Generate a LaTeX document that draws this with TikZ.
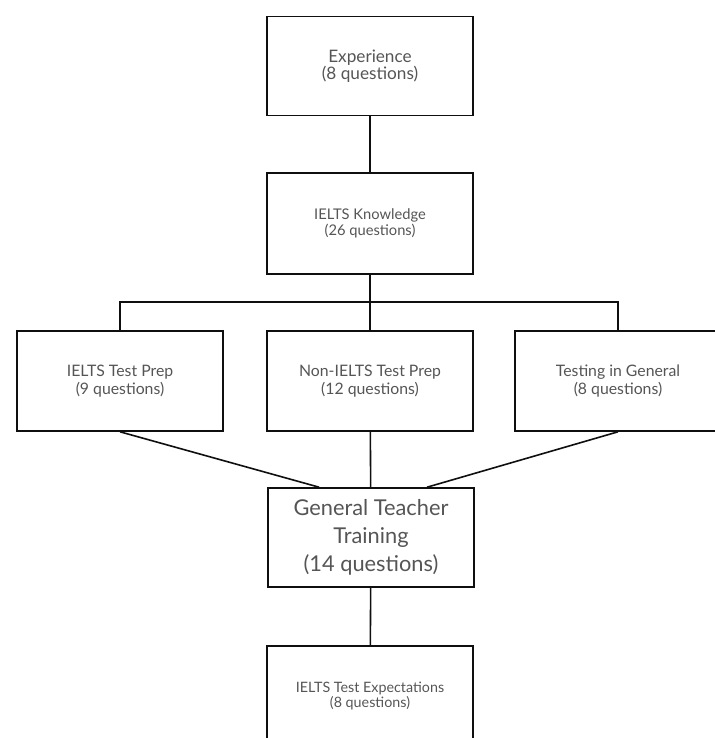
\documentclass[tikz,border=0pt]{standalone}
\usepackage{fontspec}
\setmainfont{Lato}
\usetikzlibrary{calc}
\definecolor{boxline}{RGB}{15,15,15}
\definecolor{labeltext}{RGB}{85,85,85}

\begin{document}
\begin{tikzpicture}[
      box/.style={draw=boxline,line width=1.6pt,minimum width=206pt,
                  minimum height=99pt,align=center,text=labeltext,inner sep=0pt},
      link/.style={draw=boxline,line width=1.6pt},
      x=1pt,y=-1pt]
    \useasboundingbox (0,0) rectangle (714,738);
    \node[box,font=\fontsize{17.2}{16}\selectfont] (exp) at (370,66)
        {Experience\\(8 questions)};
    \node[box,font=\fontsize{14.7}{16}\selectfont,minimum height=101pt] (know) at (370,223.5)
        {IELTS Knowledge\\(26 questions)};
    \node[box,font=\fontsize{15.8}{18}\selectfont,minimum height=100pt] (prep) at (120,381)
        {IELTS Test Prep\\(9 questions)};
    \node[box,font=\fontsize{15.8}{18}\selectfont,minimum height=100pt] (nonprep) at (370,381)
        {Non-IELTS Test Prep\\(12 questions)};
    \node[box,font=\fontsize{15.8}{18}\selectfont,minimum height=100pt] (general) at (618,381)
        {Testing in General\\(8 questions)};
    \node[box,font=\fontsize{21.8}{28}\selectfont] (teacher) at (371,537.5)
        {General Teacher\\Training\\(14 questions)};
    \node[box,font=\fontsize{14.3}{15}\selectfont,minimum height=100pt] (expect) at (370,696)
        {IELTS Test Expectations\\(8 questions)};
    \coordinate (rail) at (370,302);
    % connectors
    \draw[link] (exp) -- (know);
    \draw[link] (know) -- (nonprep);
    \draw[link] (prep.north) |- (rail) -| (general.north);
    \draw[link] (prep.south) -- ($(teacher.north west)!0.25!(teacher.north east)$);
    \draw[link] (nonprep) -- (teacher);
    \draw[link] (general.south) -- ($(teacher.north west)!0.77!(teacher.north east)$);
    \draw[link] (teacher) -- (expect);
  \end{tikzpicture}
\end{document}
